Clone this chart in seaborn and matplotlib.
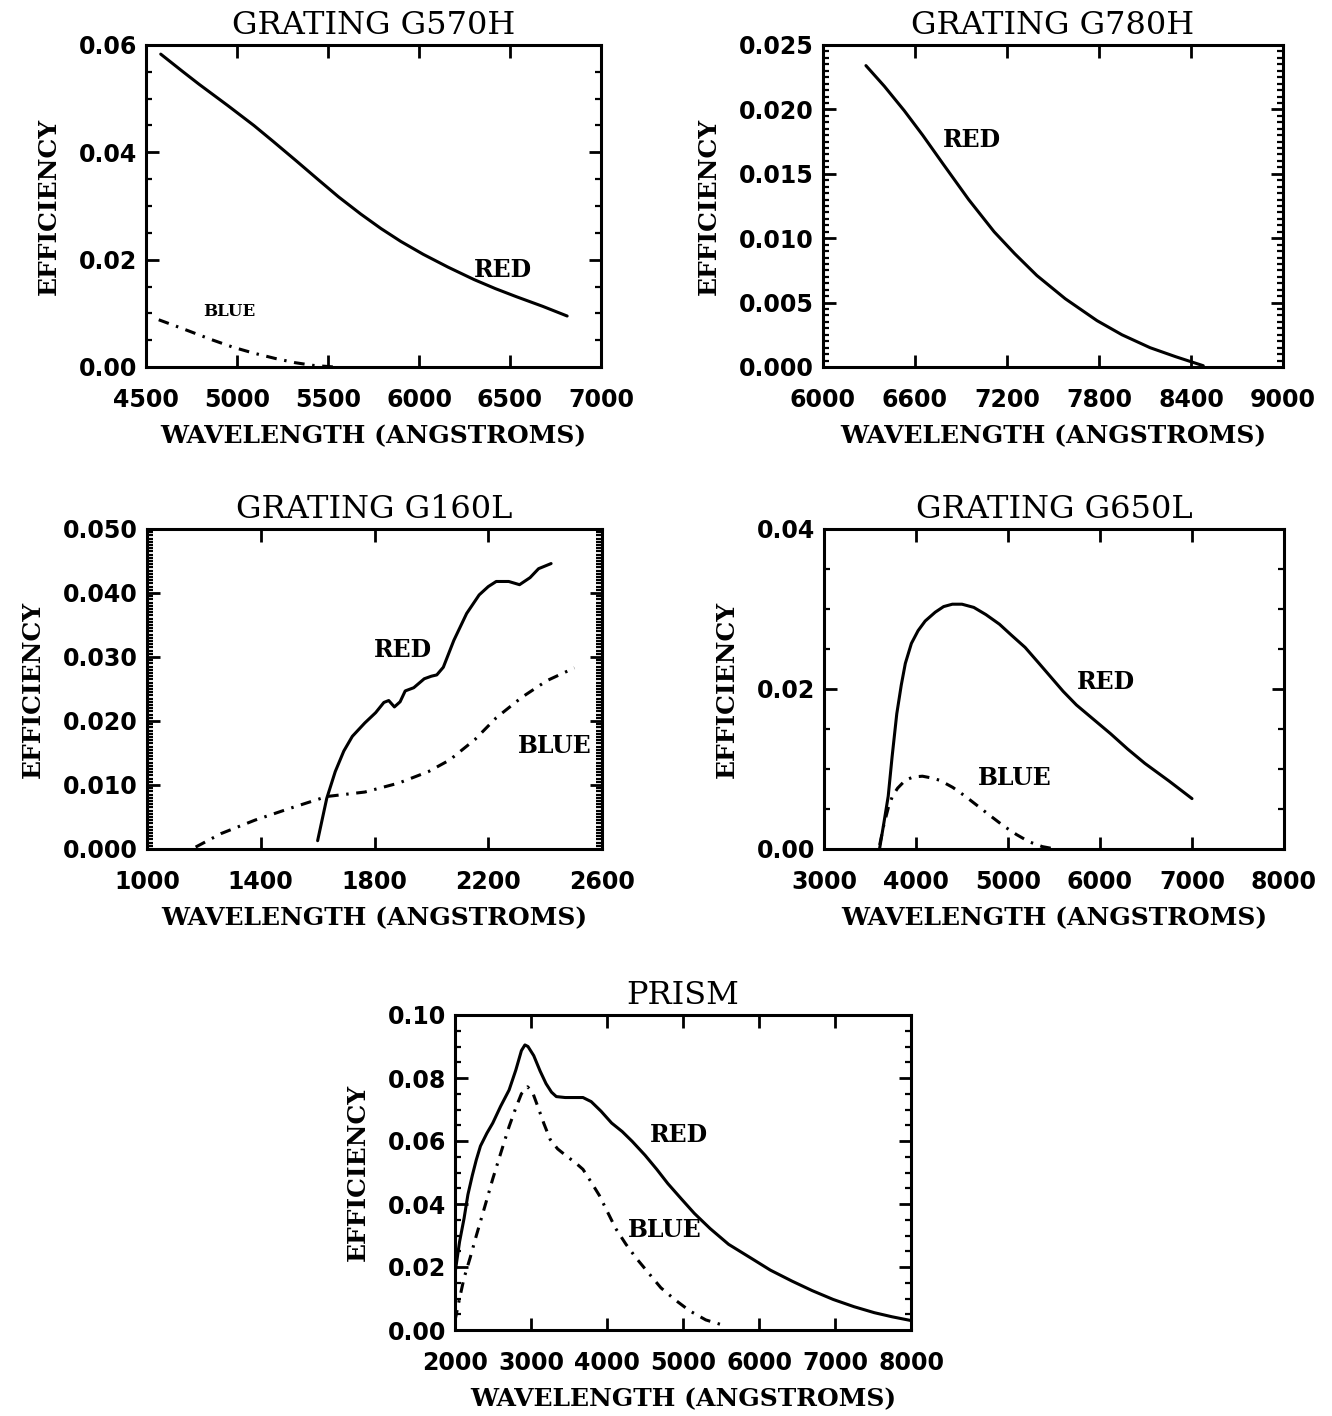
import matplotlib
matplotlib.use("Agg")
import matplotlib.pyplot as plt
from matplotlib.ticker import MultipleLocator, FormatStrFormatter, NullLocator, FixedLocator
import seaborn as sns

# ---------------- data ----------------
g570h_red_wl = [4581, 4700, 4791, 4950, 5093, 5200, 5326, 5450, 5558, 5680, 5791, 5900,
                6023, 6160, 6302, 6420, 6535, 6680, 6814]
g570h_red_eff = [0.0583, 0.0551, 0.0527, 0.0487, 0.0450, 0.0420, 0.0384, 0.0348, 0.0317,
                 0.0285, 0.0258, 0.0234, 0.0210, 0.0186, 0.0163, 0.0146, 0.0131, 0.0113, 0.0095]
g570h_blue_wl = [4570, 4650, 4744, 4860, 4977, 5090, 5209, 5320, 5419, 5535]
g570h_blue_eff = [0.0088, 0.0078, 0.0066, 0.0051, 0.0037, 0.0026, 0.0016, 0.0008, 0.0003, 0.0]

g780h_red_wl = [6280, 6400, 6530, 6650, 6781, 6950, 7116, 7250, 7395, 7580, 7787, 7950,
                8133, 8300, 8480]
g780h_red_eff = [0.0234, 0.0218, 0.0199, 0.0180, 0.0158, 0.0130, 0.0105, 0.0088, 0.0071,
                 0.0053, 0.0036, 0.0025, 0.0015, 0.0008, 0.0001]

g160l_red_wl = [1600, 1632, 1662, 1692, 1722, 1766, 1804, 1833, 1850, 1870, 1890, 1908,
                1938, 1975, 2000, 2019, 2042, 2079, 2124, 2168, 2200, 2228, 2272, 2310,
                2347, 2377, 2421]
g160l_red_eff = [0.0013, 0.0079, 0.0121, 0.0153, 0.0176, 0.0197, 0.0213, 0.0229, 0.0232,
                 0.0222, 0.0230, 0.0247, 0.0252, 0.0266, 0.0270, 0.0272, 0.0284, 0.0326,
                 0.0368, 0.0397, 0.0410, 0.0418, 0.0418, 0.0413, 0.0424, 0.0438, 0.0446]
g160l_blue_wl = [1171, 1260, 1379, 1499, 1632, 1766, 1885, 1990, 2064, 2153, 2228, 2318,
                 2406, 2503]
g160l_blue_eff = [0.0003, 0.0024, 0.0045, 0.0063, 0.0082, 0.0089, 0.0103, 0.0121, 0.0139,
                  0.0171, 0.0205, 0.0237, 0.0263, 0.0283]

g650l_red_wl = [3605, 3650, 3698, 3740, 3791, 3840, 3884, 3950, 4023, 4100, 4209, 4300,
                4395, 4500, 4628, 4760, 4907, 5040, 5186, 5330, 5465, 5600, 5744, 5930,
                6116, 6300, 6488, 6750, 7000]
g650l_red_eff = [0.0001, 0.0032, 0.0066, 0.0115, 0.0169, 0.0205, 0.0232, 0.0257, 0.0273,
                 0.0285, 0.0296, 0.0303, 0.0306, 0.0306, 0.0302, 0.0293, 0.0281, 0.0267,
                 0.0252, 0.0233, 0.0215, 0.0197, 0.0180, 0.0162, 0.0144, 0.0125, 0.0107,
                 0.0085, 0.0063]
g650l_blue_wl = [3605, 3650, 3700, 3744, 3800, 3884, 3970, 4070, 4160, 4256, 4400, 4535,
                 4680, 4814, 4950, 5093, 5230, 5372, 5512]
g650l_blue_eff = [0.0005, 0.0030, 0.0052, 0.0066, 0.0076, 0.0086, 0.0090, 0.0091, 0.0089,
                  0.0086, 0.0077, 0.0066, 0.0053, 0.0041, 0.0029, 0.0018, 0.0009, 0.0003, 0.0]

prism_red_wl = [2000, 2060, 2119, 2170, 2227, 2280, 2335, 2420, 2497, 2600, 2712, 2800,
                2874, 2920, 2960, 3036, 3120, 3198, 3270, 3333, 3450, 3600, 3684, 3792,
                3920, 4061, 4200, 4331, 4500, 4655, 4800, 4979, 5150, 5357, 5600, 5896,
                6150, 6436, 6700, 6976, 7250, 7517, 7750, 8000]
prism_red_eff = [0.018, 0.028, 0.0354, 0.043, 0.049, 0.054, 0.0584, 0.0625, 0.0657, 0.071,
                 0.0762, 0.0825, 0.0887, 0.0905, 0.0900, 0.0871, 0.0822, 0.0782, 0.0755,
                 0.0741, 0.0738, 0.0738, 0.0738, 0.0725, 0.0695, 0.0657, 0.0630, 0.0599,
                 0.0555, 0.0510, 0.0465, 0.0416, 0.0370, 0.0322, 0.0272, 0.0228, 0.0190,
                 0.0155, 0.0125, 0.0097, 0.0074, 0.0055, 0.0042, 0.0030]
prism_blue_wl = [2000, 2060, 2119, 2200, 2281, 2390, 2497, 2600, 2712, 2800, 2874, 2955,
                 3020, 3090, 3170, 3252, 3350, 3468, 3580, 3684, 3790, 3900, 4000, 4115,
                 4250, 4385, 4550, 4709, 4900, 5087, 5300, 5546]
prism_blue_eff = [0.003, 0.010, 0.0165, 0.023, 0.030, 0.039, 0.048, 0.056, 0.0646, 0.0705,
                  0.075, 0.0772, 0.0755, 0.0709, 0.0655, 0.0605, 0.0575, 0.0552, 0.0532,
                  0.051, 0.047, 0.0427, 0.0378, 0.0322, 0.0272, 0.0228, 0.018, 0.0134,
                  0.0095, 0.0061, 0.0032, 0.0014]

titles = ["GRATING G570H", "GRATING G780H", "GRATING G160L", "GRATING G650L", "PRISM"]
x_label = "WAVELENGTH (ANGSTROMS)"
y_label = "EFFICIENCY"

g570h_xticks = [4500, 5000, 5500, 6000, 6500, 7000]
g780h_xticks = [6000, 6600, 7200, 7800, 8400, 9000]
g160l_xticks = [1000, 1400, 1800, 2200, 2600]
g650l_xticks = [3000, 4000, 5000, 6000, 7000, 8000]
prism_xticks = [2000, 3000, 4000, 5000, 6000, 7000, 8000]

# ---------------- style ----------------
sns.set_theme(style="white")
plt.rcParams["font.family"] = ["DejaVu Sans"]
plt.rcParams["axes.linewidth"] = 2.2
plt.rcParams["axes.edgecolor"] = "black"
plt.rcParams["text.color"] = "black"

W, H = 1332, 1416
fig = plt.figure(figsize=(W / 100, H / 100), dpi=100)
fig.patch.set_facecolor("white")


def make_axes(left, right, top, bottom):
    return fig.add_axes([left / W, 1 - bottom / H, (right - left) / W, (bottom - top) / H])


LW = 2.2
DASHDOT = (0, (3.5, 2.5, 0.8, 2.5))
tick_font = dict(family="DejaVu Sans", weight="bold", size=17)
lab_font = dict(family="DejaVu Serif", weight="bold", size=18)
ttl_font = dict(family="DejaVu Serif", weight="normal", size=23)
txt_font = dict(family="DejaVu Serif", weight="bold", size=17, color="black")


def style(ax, title, xlim, xticks, ylim, ymaj, ymin, yfmt):
    ax.set_xlim(*xlim)
    ax.set_ylim(*ylim)
    ax.xaxis.set_major_locator(FixedLocator(xticks))
    ax.xaxis.set_minor_locator(NullLocator())
    ax.yaxis.set_major_locator(MultipleLocator(ymaj))
    ax.yaxis.set_minor_locator(MultipleLocator(ymin))
    ax.yaxis.set_major_formatter(FormatStrFormatter(yfmt))
    ax.xaxis.set_major_formatter(FormatStrFormatter("%d"))
    ax.tick_params(which="both", direction="in", top=True, right=True,
                   bottom=True, left=True, color="black", width=2.0)
    ax.tick_params(which="major", length=9)
    ax.tick_params(which="minor", length=4.5, width=1.6)
    ax.tick_params(axis="x", which="major", pad=15)
    ax.tick_params(axis="y", which="major", pad=6.5)
    for lab in ax.get_xticklabels() + ax.get_yticklabels():
        lab.set_fontfamily(tick_font["family"])
        lab.set_fontweight(tick_font["weight"])
        lab.set_fontsize(tick_font["size"])
        lab.set_color("black")
    ax.set_title(title, pad=8, color="black", **ttl_font)
    ax.set_xlabel(x_label, labelpad=9, color="black", **lab_font)
    ax.set_ylabel(y_label, labelpad=13, color="black", **lab_font)
    for s in ax.spines.values():
        s.set_visible(True)
        s.set_linewidth(2.2)
        s.set_color("black")
    ax.set_facecolor("white")


def draw(ax, wl, eff, dashed=False):
    kw = dict(color="black", linewidth=LW, estimator=None, sort=False)
    if dashed:
        kw["linestyle"] = DASHDOT
    sns.lineplot(x=wl, y=eff, ax=ax, **kw)


# Panel 1: G570H
ax1 = make_axes(146, 601, 45, 367)
draw(ax1, g570h_red_wl, g570h_red_eff)
draw(ax1, g570h_blue_wl, g570h_blue_eff, dashed=True)
style(ax1, titles[0], (4500, 7000), g570h_xticks, (0, 0.06), 0.02, 0.005, "%.2f")
ax1.text(6460, 0.0181, "RED", ha="center", va="center", **txt_font)
ax1.text(4956, 0.0104, "BLUE", ha="center", va="center", color="black",
         family="DejaVu Serif", weight="bold", size=12)

# Panel 2: G780H
ax2 = make_axes(823, 1283, 45, 367)
draw(ax2, g780h_red_wl, g780h_red_eff)
style(ax2, titles[1], (6000, 9000), g780h_xticks, (0, 0.025), 0.005, 0.0005, "%.3f")
ax2.text(6972, 0.0176, "RED", ha="center", va="center", **txt_font)

# Panel 3: G160L
ax3 = make_axes(147, 602, 529, 849)
draw(ax3, g160l_red_wl, g160l_red_eff)
draw(ax3, g160l_blue_wl, g160l_blue_eff, dashed=True)
style(ax3, titles[2], (1000, 2600), g160l_xticks, (0, 0.05), 0.01, 0.0005, "%.3f")
ax3.text(1900, 0.0311, "RED", ha="center", va="center", **txt_font)
ax3.text(2435, 0.0161, "BLUE", ha="center", va="center", **txt_font)

# Panel 4: G650L
ax4 = make_axes(824, 1284, 529, 849)
draw(ax4, g650l_red_wl, g650l_red_eff)
draw(ax4, g650l_blue_wl, g650l_blue_eff, dashed=True)
style(ax4, titles[3], (3000, 8000), g650l_xticks, (0, 0.04), 0.02, 0.005, "%.2f")
ax4.text(6065, 0.0209, "RED", ha="center", va="center", **txt_font)
ax4.text(5076, 0.0089, "BLUE", ha="center", va="center", **txt_font)

# Panel 5: PRISM
ax5 = make_axes(455, 911, 1015, 1330)
draw(ax5, prism_red_wl, prism_red_eff)
draw(ax5, prism_blue_wl, prism_blue_eff, dashed=True)
style(ax5, titles[4], (2000, 8000), prism_xticks, (0, 0.10), 0.02, 0.005, "%.2f")
ax5.text(4947, 0.0619, "RED", ha="center", va="center", **txt_font)
ax5.text(4763, 0.0317, "BLUE", ha="center", va="center", **txt_font)

fig.savefig("out.png", dpi=100, facecolor="white")
